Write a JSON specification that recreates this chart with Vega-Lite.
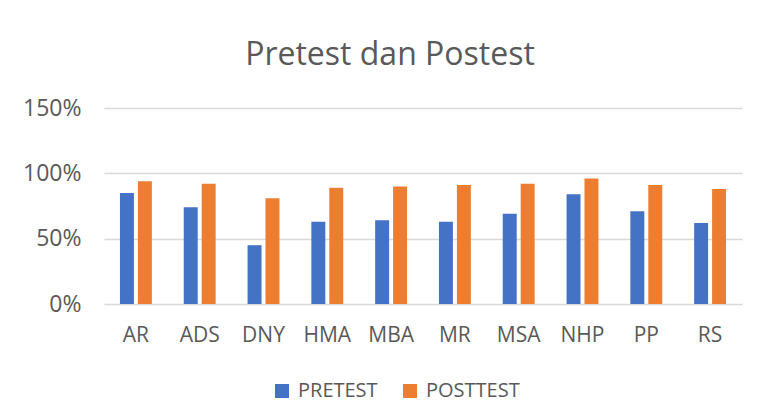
{
  "$schema": "https://vega.github.io/schema/vega-lite/v6.json",
  "width": 638,
  "height": 196,
  "autosize": {"type": "none"},
  "padding": {"left": 104, "top": 108, "right": 15, "bottom": 116},
  "background": "white",
  "title": {
    "text": "Pretest dan Postest",
    "font": "Open Sans",
    "fontSize": 32,
    "fontWeight": "normal",
    "color": "#595959",
    "anchor": "middle",
    "frame": "group",
    "dx": -33,
    "offset": 25
  },
  "data": {
    "values": [
      {"nama": "AR", "tes": "PRETEST", "nilai": 0.85},
      {"nama": "AR", "tes": "POSTTEST", "nilai": 0.94},
      {"nama": "ADS", "tes": "PRETEST", "nilai": 0.74},
      {"nama": "ADS", "tes": "POSTTEST", "nilai": 0.92},
      {"nama": "DNY", "tes": "PRETEST", "nilai": 0.45},
      {"nama": "DNY", "tes": "POSTTEST", "nilai": 0.81},
      {"nama": "HMA", "tes": "PRETEST", "nilai": 0.63},
      {"nama": "HMA", "tes": "POSTTEST", "nilai": 0.89},
      {"nama": "MBA", "tes": "PRETEST", "nilai": 0.64},
      {"nama": "MBA", "tes": "POSTTEST", "nilai": 0.90},
      {"nama": "MR", "tes": "PRETEST", "nilai": 0.63},
      {"nama": "MR", "tes": "POSTTEST", "nilai": 0.91},
      {"nama": "MSA", "tes": "PRETEST", "nilai": 0.69},
      {"nama": "MSA", "tes": "POSTTEST", "nilai": 0.92},
      {"nama": "NHP", "tes": "PRETEST", "nilai": 0.84},
      {"nama": "NHP", "tes": "POSTTEST", "nilai": 0.96},
      {"nama": "PP", "tes": "PRETEST", "nilai": 0.71},
      {"nama": "PP", "tes": "POSTTEST", "nilai": 0.91},
      {"nama": "RS", "tes": "PRETEST", "nilai": 0.62},
      {"nama": "RS", "tes": "POSTTEST", "nilai": 0.88}
    ]
  },
  "mark": {"type": "bar"},
  "encoding": {
    "x": {
      "field": "nama",
      "type": "nominal",
      "sort": null,
      "scale": {"paddingInner": 0.5, "paddingOuter": 0.25},
      "axis": {
        "title": null,
        "labelAngle": 0,
        "domain": false,
        "ticks": false,
        "labelFont": "Open Sans",
        "labelFontSize": 21,
        "labelColor": "#595959",
        "labelPadding": 20
      }
    },
    "xOffset": {
      "field": "tes",
      "type": "nominal",
      "sort": ["PRETEST", "POSTTEST"],
      "scale": {"paddingInner": 0.222, "paddingOuter": 0}
    },
    "y": {
      "field": "nilai",
      "type": "quantitative",
      "scale": {"domain": [0, 1.5], "nice": false},
      "axis": {
        "title": null,
        "values": [0, 0.5, 1, 1.5],
        "format": ".0%",
        "domain": false,
        "ticks": false,
        "grid": true,
        "gridColor": "#d9d9d9",
        "gridWidth": 1.5,
        "labelFont": "Open Sans",
        "labelFontSize": 23,
        "labelColor": "#595959",
        "labelPadding": 23
      }
    },
    "color": {
      "field": "tes",
      "type": "nominal",
      "sort": ["PRETEST", "POSTTEST"],
      "scale": {"domain": ["PRETEST", "POSTTEST"], "range": ["#4472C4", "#ED7D31"]},
      "legend": {
        "title": null,
        "orient": "none",
        "direction": "horizontal",
        "legendX": 168,
        "legendY": 273,
        "symbolType": "square",
        "symbolSize": 196,
        "symbolStrokeWidth": 0,
        "symbolOpacity": 1,
        "labelFont": "Open Sans",
        "labelFontSize": 20,
        "labelColor": "#595959",
        "labelOffset": 6,
        "columnPadding": 22
      }
    }
  },
  "config": {
    "view": {"stroke": null}
  }
}
